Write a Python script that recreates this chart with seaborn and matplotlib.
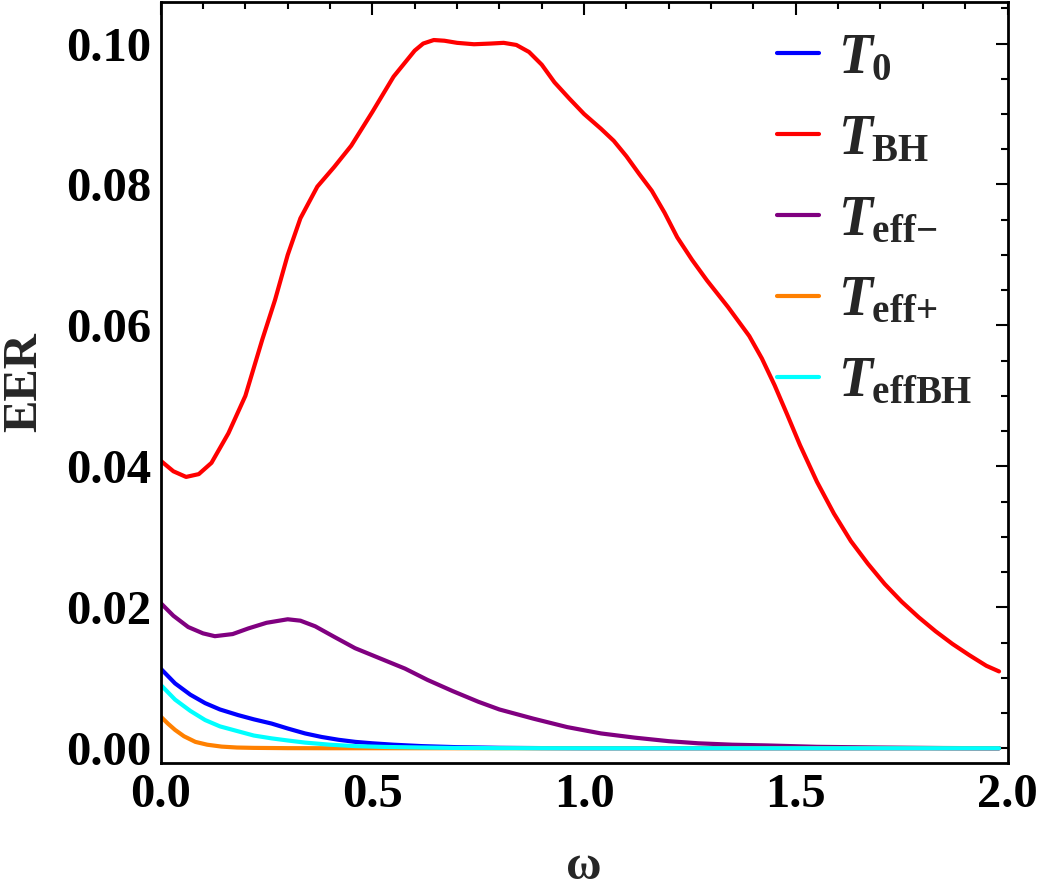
import pandas as pd
import matplotlib
matplotlib.use("Agg")
import matplotlib.pyplot as plt
import seaborn as sns
from matplotlib.ticker import MultipleLocator, FormatStrFormatter

# values
w_bh = [0.0, 0.03, 0.06, 0.09, 0.12, 0.16, 0.20, 0.24, 0.27, 0.30, 0.33, 0.37,
        0.41, 0.45, 0.50, 0.55, 0.60, 0.62, 0.645, 0.67, 0.70, 0.74, 0.78, 0.81,
        0.84, 0.87, 0.90, 0.93, 0.965, 1.00, 1.04, 1.07, 1.10, 1.13, 1.16, 1.19,
        1.22, 1.255, 1.29, 1.34, 1.39, 1.42, 1.45, 1.48, 1.51, 1.55, 1.59, 1.63,
        1.67, 1.71, 1.75, 1.79, 1.83, 1.87, 1.91, 1.95, 1.98]
eer_bh = [0.0408, 0.0393, 0.0385, 0.0389, 0.0405, 0.0447, 0.0500, 0.0580, 0.0636,
          0.0700, 0.0752, 0.0797, 0.0825, 0.0855, 0.0903, 0.0953, 0.0990, 0.1000,
          0.1005, 0.1004, 0.1001, 0.0999, 0.1000, 0.1001, 0.0998, 0.0988, 0.0970,
          0.0945, 0.0922, 0.0900, 0.0879, 0.0862, 0.0840, 0.0815, 0.0791, 0.0760,
          0.0725, 0.0693, 0.0664, 0.0626, 0.0585, 0.0553, 0.0515, 0.0473, 0.0430,
          0.0378, 0.0333, 0.0294, 0.0262, 0.0233, 0.0208, 0.0186, 0.0166, 0.0148,
          0.0132, 0.0117, 0.0109]

w_minus = [0.0, 0.03, 0.065, 0.10, 0.128, 0.17, 0.207, 0.25, 0.30, 0.33, 0.365,
           0.41, 0.459, 0.52, 0.577, 0.63, 0.69, 0.75, 0.80, 0.88, 0.96, 1.04,
           1.12, 1.20, 1.27, 1.35, 1.43, 1.55, 1.70, 1.85, 1.98]
eer_minus = [0.0206, 0.0188, 0.0172, 0.0163, 0.0159, 0.0162, 0.0170, 0.0178,
             0.0183, 0.0181, 0.0173, 0.0158, 0.0142, 0.0127, 0.0113, 0.0097,
             0.0081, 0.0066, 0.0055, 0.0042, 0.0030, 0.0021, 0.0015, 0.0010,
             0.0007, 0.0005, 0.0004, 0.0002, 0.0001, 0.00003, 0.0]

w_0 = [0.0, 0.034, 0.07, 0.105, 0.14, 0.183, 0.22, 0.262, 0.30, 0.341, 0.38,
       0.42, 0.46, 0.50, 0.55, 0.617, 0.70, 0.80, 0.90, 1.0, 1.5, 1.98]
eer_0 = [0.0113, 0.0092, 0.0076, 0.0064, 0.0055, 0.0047, 0.0041, 0.0035, 0.0028,
         0.0021, 0.0016, 0.0012, 0.0009, 0.0007, 0.0005, 0.0003, 0.00015, 0.00006,
         0.00002, 0.0, 0.0, 0.0]

w_effbh = [0.0, 0.034, 0.07, 0.105, 0.14, 0.183, 0.22, 0.262, 0.30, 0.341, 0.40,
           0.459, 0.53, 0.617, 0.70, 0.80, 1.0, 1.5, 1.98]
eer_effbh = [0.0090, 0.0069, 0.0053, 0.0040, 0.0031, 0.0024, 0.0018, 0.0014, 0.0011,
             0.0008, 0.0005, 0.0003, 0.00018, 0.0001, 0.00004, 0.00001, 0.0, 0.0, 0.0]

w_plus = [0.0, 0.017, 0.034, 0.055, 0.082, 0.11, 0.144, 0.18, 0.22, 0.30, 0.40,
          0.60, 1.0, 1.5, 1.98]
eer_plus = [0.0045, 0.0035, 0.0026, 0.0017, 0.0009, 0.0005, 0.00023, 0.0001,
            0.00005, 0.00001, 0.0, 0.0, 0.0, 0.0, 0.0]

names = [r'$T_{\mathrm{0}}$', r'$T_{\mathrm{BH}}$', r'$T_{\mathrm{eff}{-}}$',
         r'$T_{\mathrm{eff}{+}}$', r'$T_{\mathrm{effBH}}$']
colors = ['#0000ff', '#ff0000', '#800080', '#ff8000', '#00ffff']

parts = []
for name, w, e in zip(names, [w_0, w_bh, w_minus, w_plus, w_effbh],
                      [eer_0, eer_bh, eer_minus, eer_plus, eer_effbh]):
    parts.append(pd.DataFrame({'omega': w, 'EER': e, 'series': name}))
df = pd.concat(parts, ignore_index=True)

sns.set_theme(style='white')
plt.rcParams['font.family'] = ['Liberation Serif', 'DejaVu Serif']
plt.rcParams['font.weight'] = 'bold'
plt.rcParams['mathtext.fontset'] = 'custom'
plt.rcParams['mathtext.it'] = 'Liberation Serif:italic:bold'
plt.rcParams['mathtext.rm'] = 'Liberation Serif:bold'
plt.rcParams['mathtext.bf'] = 'Liberation Serif:bold'

fig = plt.figure(figsize=(10.42, 8.94), dpi=100)
ax = fig.add_axes([0.1542, 0.1465, 0.8127, 0.8513])

sns.lineplot(data=df, x='omega', y='EER', hue='series', hue_order=names,
             palette=dict(zip(names, colors)), estimator=None, sort=False,
             linewidth=3, ax=ax)

ax.set_xlim(0, 2.0)
ax.set_ylim(-0.0021, 0.1059)
ax.xaxis.set_major_locator(MultipleLocator(0.5))
ax.xaxis.set_minor_locator(MultipleLocator(0.1))
ax.yaxis.set_major_locator(MultipleLocator(0.02))
ax.yaxis.set_minor_locator(MultipleLocator(0.005))
ax.xaxis.set_major_formatter(FormatStrFormatter('%.1f'))
ax.yaxis.set_major_formatter(FormatStrFormatter('%.2f'))
ax.tick_params(which='both', direction='in', top=True, right=True,
               colors='black', width=1.5)
ax.tick_params(which='major', length=9, labelsize=35, pad=7)
ax.tick_params(which='minor', length=5)
for s in ax.spines.values():
    s.set_linewidth(2)
    s.set_color('black')

ax.set_xlabel('ω', fontsize=35, fontweight='bold', labelpad=20)
ax.set_ylabel('EER', fontsize=35, fontweight='bold', labelpad=14)

sns.move_legend(ax, 'upper right', bbox_to_anchor=(1.018, 1.025), title=None,
                frameon=False, fontsize=40, handlelength=0.75,
                handletextpad=0.35, labelspacing=0.52)
for line in ax.get_legend().get_lines():
    line.set_linewidth(3)

fig.savefig('out.png', dpi=100)
